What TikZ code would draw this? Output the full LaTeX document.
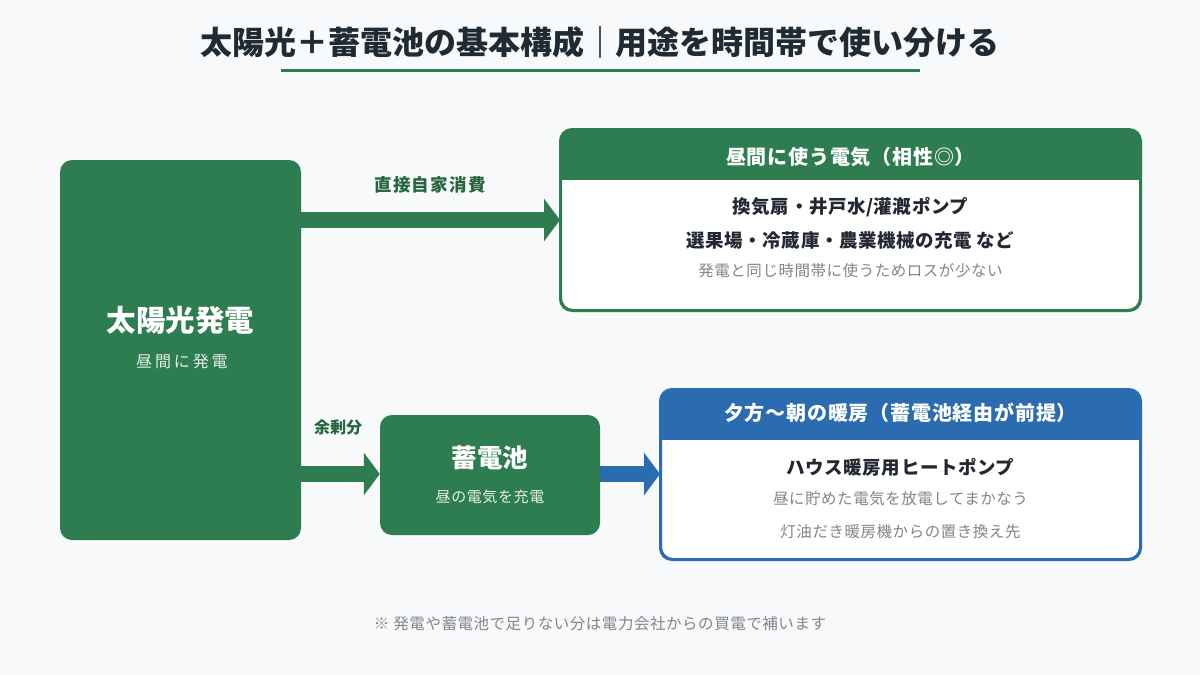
\documentclass[tikz,border=0pt]{standalone}
\usepackage{fontspec}
\setmainfont{Noto Sans CJK JP}
\usetikzlibrary{arrows.meta}
\definecolor{gr}{HTML}{2E7D50}
\definecolor{bl}{HTML}{2B6CB0}
\definecolor{bgc}{HTML}{F8F9FA}
\definecolor{ink}{HTML}{1F2A33}
\definecolor{gtxt}{HTML}{80868B}
\definecolor{lbl}{HTML}{26663F}
\definecolor{bodyink}{HTML}{222831}
\newcommand{\fs}[1]{\fontsize{#1}{#1}\selectfont}
\newcommand{\fsl}[2]{\fontsize{#1}{#1}\selectfont\addfontfeature{LetterSpace=#2}}
\begin{document}
\begin{tikzpicture}[x=1pt,y=-1pt,
  solidbox/.style={rectangle, rounded corners=12pt, fill=gr, inner sep=0pt},
  card/.style={rectangle, rounded corners=12pt, draw=#1, line width=2pt, fill=white, inner sep=0pt},
  fat/.style={line width=16pt, draw=#1, -{Triangle[length=16pt,width=42pt]}},
  txt/.style={inner sep=0pt, anchor=center},
  headtxt/.style={txt, text=white, font=\bfseries\fsl{20}{4}},
  bodybold/.style={txt, text=bodyink, font=\bfseries\fsl{18.5}{3}},
  bodygray/.style={txt, text=gtxt, font=\fsl{15.5}{3.5}},
  arrowlbl/.style={txt, text=lbl, font=\bfseries#1}
]
\fill[bgc] (0,0) rectangle (1200,675);
\useasboundingbox (0,0) rectangle (1200,675);

% title
\node[txt, text=ink, font=\bfseries\fs{32}] (title) at (600,42) {太陽光＋蓄電池の基本構成｜用途を時間帯で使い分ける};
\draw[gr, line width=3pt] (281,70) -- (920,70);

% solar
\node[solidbox, minimum width=241pt, minimum height=380pt] (solar) at (180.5,350) {};
\node[txt, text=white, font=\bfseries\fs{29.5}] (solarT) at (180.5,320) {太陽光発電};
\node[txt, text=white!88!gr, font=\fsl{16}{18}] (solarS) at (182,361) {昼間に発電};

% daytime card
\node[card=gr, minimum width=579pt, minimum height=180pt] (day) at (850.5,220) {};
\begin{scope}
  \clip[rounded corners=12pt] (day.north west) rectangle (day.south east);
  \fill[gr] (day.north west) rectangle ([yshift=-51pt]day.north east);
\end{scope}
\draw[gr, line width=2pt, rounded corners=12pt] (day.north west) rectangle (day.south east);
\node[headtxt] (dayH) at (850.5,157) {昼間に使う電気（相性◎）};
\node[bodybold] (day1) at (850.5,207) {換気扇・井戸水/灌漑ポンプ};
\node[bodybold] (day2) at (850.5,240) {選果場・冷蔵庫・農業機械の充電 など};
\node[bodygray] (day3) at (850.5,271) {発電と同じ時間帯に使うためロスが少ない};

% battery
\node[solidbox, minimum width=220pt, minimum height=120pt] (batt) at (490,475) {};
\node[txt, text=white, font=\bfseries\fs{25.5}] (battT) at (490,458) {蓄電池};
\node[txt, text=white!88!gr, font=\fsl{15}{4}] (battS) at (490,497) {昼の電気を充電};

% heating card
\node[card=bl, minimum width=479pt, minimum height=169pt] (heat) at (900.5,474.5) {};
\begin{scope}
  \clip[rounded corners=12pt] (heat.north west) rectangle (heat.south east);
  \fill[bl] (heat.north west) rectangle ([yshift=-51pt]heat.north east);
\end{scope}
\draw[bl, line width=2pt, rounded corners=12pt] (heat.north west) rectangle (heat.south east);
\node[headtxt] (heatH) at (900.5,413) {夕方〜朝の暖房（蓄電池経由が前提）};
\node[bodybold] (heat1) at (900.5,467) {ハウス暖房用ヒートポンプ};
\node[bodygray] (heat2) at (900.5,499) {昼に貯めた電気を放電してまかなう};
\node[bodygray] (heat3) at (900.5,532) {灯油だき暖房機からの置き換え先};

% arrows
\coordinate (ya) at (0,220);
\coordinate (yb) at (0,474);
\draw[fat=gr] (solar.east |- ya) -- (day.west |- ya);
\draw[fat=gr] (solar.east |- yb) -- (batt.west |- yb);
\draw[fat=bl] (batt.east |- yb) -- (heat.west |- yb);
\node[arrowlbl={\fsl{17.5}{7}}] (lblA) at (430,185) {直接自家消費};
\node[arrowlbl={\fs{16}}] (lblB) at (338,427) {余剰分};

% footer
\node[txt, text=gtxt, font=\fsl{15.5}{3.5}] (foot) at (600,624) {※ 発電や蓄電池で足りない分は電力会社からの買電で補います};
\end{tikzpicture}
\end{document}
